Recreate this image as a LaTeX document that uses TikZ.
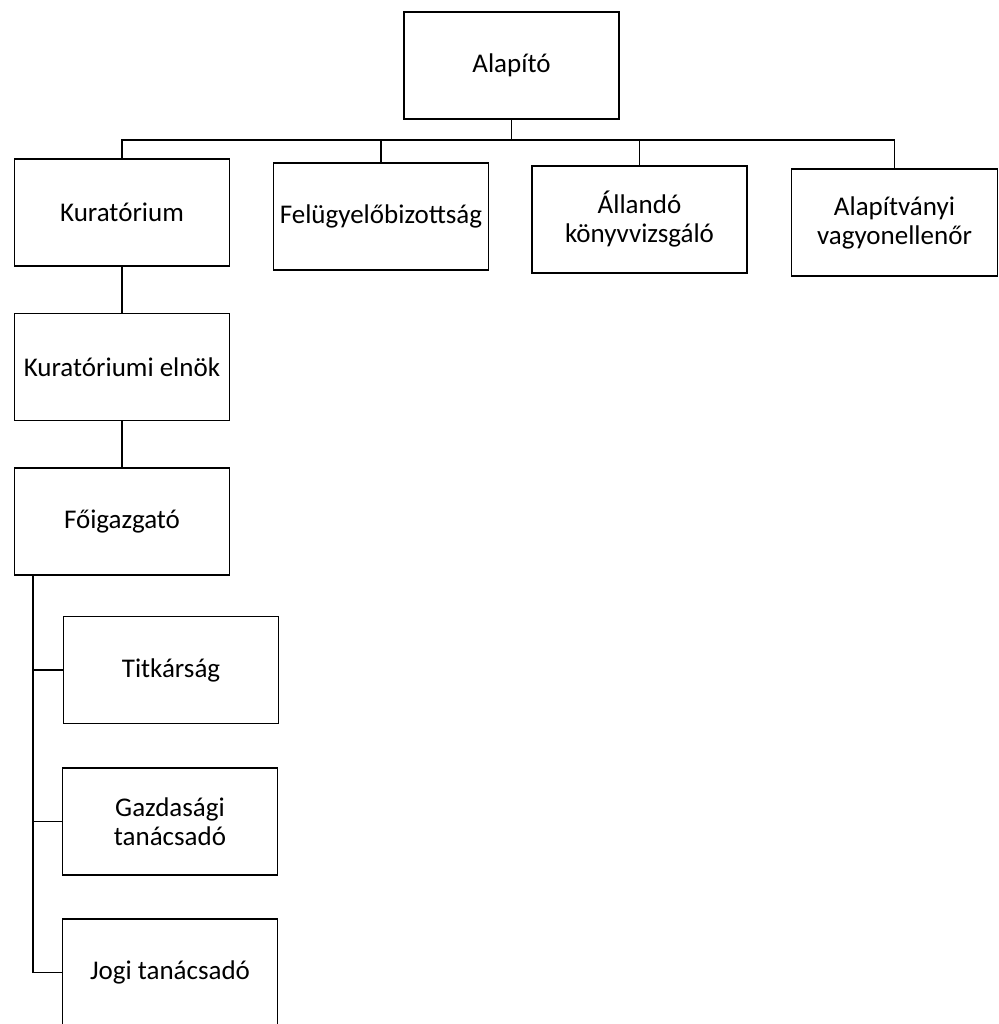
\documentclass[tikz,border=0pt]{standalone}
\usepackage{fontspec}
\setmainfont{Carlito}
\usetikzlibrary{positioning}
\tikzset{
  unit/.style={
    draw,
    line width=0.8pt,
    minimum width=107.5pt,
    minimum height=53.5pt,
    inner sep=0pt,
    align=center,
    font=\fontsize{13.5pt}{14.5pt}\selectfont
  },
  link/.style={line width=0.8pt}
}

\begin{document}
\begin{tikzpicture}[x=0.5pt,y=-0.5pt,node distance=23pt]
  \useasboundingbox (0,0) rectangle (998,1024);

  \node[unit] (alap) at (511.5,65.5) {Alapító};

  \node[unit] (kur) at (122,212.5) {Kuratórium};
  \node[unit] (felu) at (381,216.5) {Felügyelőbizottság};
  \node[unit] (konyv) at (639.5,219.5) {Állandó\\könyvvizsgáló};
  \node[unit, minimum width=103pt] (vagy) at (894.5,222.5) {Alapítványi\\vagyonellenőr};

  \node[unit, below=of kur] (elnok) {Kuratóriumi elnök};
  \node[unit, below=of elnok] (foig) {Főigazgató};

  \node[unit] (titk) at (171,670) {Titkárság};
  \node[unit] (gazd) at (170,821.5) {Gazdasági\\tanácsadó};
  \node[unit] (jogi) at (170,972.5) {Jogi tanácsadó};

  \coordinate (bar) at (511.5,140);
  \coordinate (trunk) at (33,0);

  \draw[link] (alap.south) -- (bar);
  \draw[link] (kur.north) |- (bar) -| (vagy.north);
  \draw[link] (felu.north) -- (felu.north |- bar);
  \draw[link] (konyv.north) -- (konyv.north |- bar);

  \draw[link] (kur) -- (elnok);
  \draw[link] (elnok) -- (foig);

  \draw[link] (foig.south -| trunk) |- (titk.west);
  \draw[link] (foig.south -| trunk) |- (gazd.west);
  \draw[link] (foig.south -| trunk) |- (jogi.west);
\end{tikzpicture}
\end{document}
